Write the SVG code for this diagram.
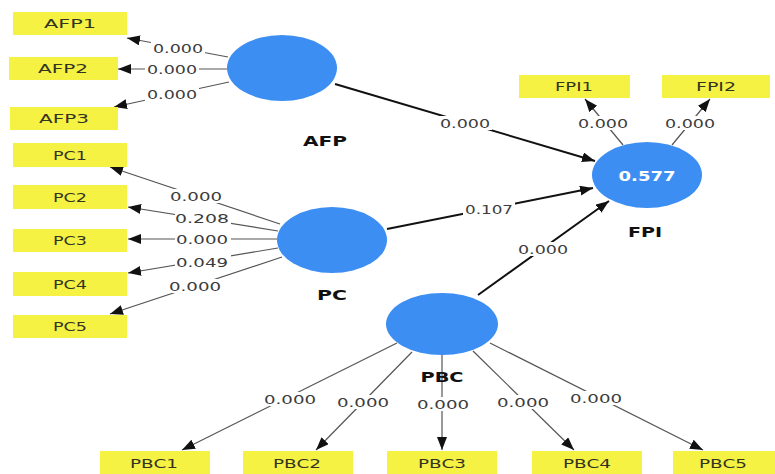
<svg xmlns="http://www.w3.org/2000/svg" width="775" height="474" viewBox="0 0 775 474">
<style>
.box{fill:#f5f244;}
.btxt{font-family:"DejaVu Sans",sans-serif;font-size:13px;fill:#333322;text-anchor:middle;}
.lv{fill:#3d8ef2;}
.lname{font-family:"DejaVu Sans",sans-serif;font-weight:bold;font-size:14px;fill:#111;text-anchor:middle;}
.r2{font-family:"DejaVu Sans",sans-serif;font-weight:bold;font-size:14px;fill:#fff;text-anchor:middle;}
.out{stroke:#555;stroke-width:1.2;fill:none;}
.path{stroke:#111;stroke-width:2;fill:none;}
.bg{fill:#fff;}
.lbl{font-family:"DejaVu Sans",sans-serif;font-size:13px;fill:#3c3c3c;text-anchor:middle;}
</style>
<defs>
<marker id="ah" markerUnits="userSpaceOnUse" markerWidth="14" markerHeight="11" refX="13" refY="5" orient="auto"><path d="M0,0 L13,5 L0,10 z" fill="#111"/></marker>
</defs>
<rect width="775" height="474" fill="#fff"/>
<g id="connectors">
<line class="out" x1="228" y1="57" x2="127" y2="38" marker-end="url(#ah)"/>
<line class="out" x1="227" y1="69" x2="118" y2="69" marker-end="url(#ah)"/>
<line class="out" x1="229" y1="82" x2="114" y2="107" marker-end="url(#ah)"/>
<line class="out" x1="280" y1="224" x2="110" y2="167" marker-end="url(#ah)"/>
<line class="out" x1="278" y1="231" x2="128" y2="207" marker-end="url(#ah)"/>
<line class="out" x1="277" y1="239" x2="128" y2="239" marker-end="url(#ah)"/>
<line class="out" x1="278" y1="248" x2="128" y2="273" marker-end="url(#ah)"/>
<line class="out" x1="282" y1="257" x2="110" y2="314" marker-end="url(#ah)"/>
<line class="out" x1="623" y1="145" x2="585" y2="99" marker-end="url(#ah)"/>
<line class="out" x1="672" y1="145" x2="710" y2="99" marker-end="url(#ah)"/>
<line class="out" x1="397" y1="343" x2="182" y2="450" marker-end="url(#ah)"/>
<line class="out" x1="412" y1="352" x2="316" y2="450" marker-end="url(#ah)"/>
<line class="out" x1="442" y1="355" x2="442" y2="450" marker-end="url(#ah)"/>
<line class="out" x1="473" y1="351" x2="574" y2="450" marker-end="url(#ah)"/>
<line class="out" x1="490" y1="343" x2="703" y2="450" marker-end="url(#ah)"/>
<line class="path" x1="335" y1="84" x2="595" y2="161" marker-end="url(#ah)"/>
<line class="path" x1="387" y1="229" x2="593" y2="188" marker-end="url(#ah)"/>
<line class="path" x1="478" y1="295" x2="609" y2="201" marker-end="url(#ah)"/>
<rect class="bg" x="151" y="41" width="54" height="14"/>
<rect class="bg" x="145" y="62" width="54" height="14"/>
<rect class="bg" x="145" y="87" width="54" height="14"/>
<rect class="bg" x="169" y="189" width="56" height="14"/>
<rect class="bg" x="175" y="211" width="56" height="14"/>
<rect class="bg" x="175" y="232" width="56" height="14"/>
<rect class="bg" x="175" y="255" width="56" height="14"/>
<rect class="bg" x="168" y="279" width="56" height="14"/>
<rect class="bg" x="576" y="116" width="54" height="14"/>
<rect class="bg" x="663" y="116" width="54" height="14"/>
<rect class="bg" x="438" y="116" width="54" height="14"/>
<rect class="bg" x="463" y="202" width="52" height="14"/>
<rect class="bg" x="516" y="242" width="54" height="14"/>
<rect class="bg" x="262" y="392" width="56" height="14"/>
<rect class="bg" x="335" y="395" width="56" height="14"/>
<rect class="bg" x="415" y="397" width="56" height="14"/>
<rect class="bg" x="495" y="395" width="56" height="14"/>
<rect class="bg" x="568" y="391" width="56" height="14"/>
<text class="lbl" x="178" y="53" textLength="50" lengthAdjust="spacingAndGlyphs">0.000</text>
<text class="lbl" x="172" y="74" textLength="50" lengthAdjust="spacingAndGlyphs">0.000</text>
<text class="lbl" x="172" y="99" textLength="50" lengthAdjust="spacingAndGlyphs">0.000</text>
<text class="lbl" x="196" y="201" textLength="52" lengthAdjust="spacingAndGlyphs">0.000</text>
<text class="lbl" x="202" y="223" textLength="54" lengthAdjust="spacingAndGlyphs">0.208</text>
<text class="lbl" x="202" y="244" textLength="52" lengthAdjust="spacingAndGlyphs">0.000</text>
<text class="lbl" x="202" y="267" textLength="52" lengthAdjust="spacingAndGlyphs">0.049</text>
<text class="lbl" x="195" y="291" textLength="52" lengthAdjust="spacingAndGlyphs">0.000</text>
<text class="lbl" x="603" y="128" textLength="50" lengthAdjust="spacingAndGlyphs">0.000</text>
<text class="lbl" x="690" y="128" textLength="50" lengthAdjust="spacingAndGlyphs">0.000</text>
<text class="lbl" x="465" y="128" textLength="50" lengthAdjust="spacingAndGlyphs">0.000</text>
<text class="lbl" x="489" y="214" textLength="48" lengthAdjust="spacingAndGlyphs">0.107</text>
<text class="lbl" x="543" y="254" textLength="50" lengthAdjust="spacingAndGlyphs">0.000</text>
<text class="lbl" x="290" y="404" textLength="52" lengthAdjust="spacingAndGlyphs">0.000</text>
<text class="lbl" x="363" y="407" textLength="52" lengthAdjust="spacingAndGlyphs">0.000</text>
<text class="lbl" x="443" y="409" textLength="52" lengthAdjust="spacingAndGlyphs">0.000</text>
<text class="lbl" x="523" y="407" textLength="52" lengthAdjust="spacingAndGlyphs">0.000</text>
<text class="lbl" x="596" y="403" textLength="52" lengthAdjust="spacingAndGlyphs">0.000</text>
</g>
<g id="AFP"><ellipse class="lv" cx="282" cy="68" rx="55" ry="33"/><text class="lname" x="325" y="146" textLength="44" lengthAdjust="spacingAndGlyphs">AFP</text></g>
<g id="PC"><ellipse class="lv" cx="332" cy="240" rx="55" ry="33"/><text class="lname" x="332" y="300" textLength="30" lengthAdjust="spacingAndGlyphs">PC</text></g>
<g id="FPI"><ellipse class="lv" cx="647" cy="175" rx="55" ry="33"/><text class="r2" x="647" y="181" textLength="57" lengthAdjust="spacingAndGlyphs">0.577</text><text class="lname" x="645" y="237" textLength="34" lengthAdjust="spacingAndGlyphs">FPI</text></g>
<g id="PBC"><ellipse class="lv" cx="442" cy="324" rx="56" ry="31"/><text class="lname" x="442" y="382" textLength="43" lengthAdjust="spacingAndGlyphs">PBC</text></g>
<g id="AFP1"><rect class="box" x="13" y="12" width="114" height="23"/><text class="btxt" x="70" y="28" textLength="52" lengthAdjust="spacingAndGlyphs">AFP1</text></g>
<g id="AFP2"><rect class="box" x="9" y="57" width="109" height="23"/><text class="btxt" x="63" y="73" textLength="50" lengthAdjust="spacingAndGlyphs">AFP2</text></g>
<g id="AFP3"><rect class="box" x="10" y="107" width="108" height="23"/><text class="btxt" x="64" y="123" textLength="50" lengthAdjust="spacingAndGlyphs">AFP3</text></g>
<g id="PC1"><rect class="box" x="13" y="143" width="114" height="24"/><text class="btxt" x="70" y="160" textLength="34" lengthAdjust="spacingAndGlyphs">PC1</text></g>
<g id="PC2"><rect class="box" x="13" y="185" width="114" height="24"/><text class="btxt" x="70" y="202" textLength="34" lengthAdjust="spacingAndGlyphs">PC2</text></g>
<g id="PC3"><rect class="box" x="13" y="229" width="114" height="23"/><text class="btxt" x="70" y="245" textLength="34" lengthAdjust="spacingAndGlyphs">PC3</text></g>
<g id="PC4"><rect class="box" x="13" y="272" width="114" height="24"/><text class="btxt" x="70" y="289" textLength="34" lengthAdjust="spacingAndGlyphs">PC4</text></g>
<g id="PC5"><rect class="box" x="13" y="315" width="114" height="23"/><text class="btxt" x="70" y="331" textLength="34" lengthAdjust="spacingAndGlyphs">PC5</text></g>
<g id="FPI1"><rect class="box" x="519" y="75" width="111" height="23"/><text class="btxt" x="574" y="91" textLength="38" lengthAdjust="spacingAndGlyphs">FPI1</text></g>
<g id="FPI2"><rect class="box" x="662" y="75" width="108" height="23"/><text class="btxt" x="716" y="91" textLength="40" lengthAdjust="spacingAndGlyphs">FPI2</text></g>
<g id="PBC1"><rect class="box" x="100" y="451" width="110" height="23"/><text class="btxt" x="154" y="468" textLength="48" lengthAdjust="spacingAndGlyphs">PBC1</text></g>
<g id="PBC2"><rect class="box" x="243" y="451" width="110" height="23"/><text class="btxt" x="297" y="468" textLength="48" lengthAdjust="spacingAndGlyphs">PBC2</text></g>
<g id="PBC3"><rect class="box" x="387" y="451" width="110" height="23"/><text class="btxt" x="442" y="468" textLength="48" lengthAdjust="spacingAndGlyphs">PBC3</text></g>
<g id="PBC4"><rect class="box" x="532" y="451" width="110" height="23"/><text class="btxt" x="587" y="468" textLength="48" lengthAdjust="spacingAndGlyphs">PBC4</text></g>
<g id="PBC5"><rect class="box" x="673" y="451" width="102" height="23"/><text class="btxt" x="723" y="468" textLength="48" lengthAdjust="spacingAndGlyphs">PBC5</text></g>
</svg>
